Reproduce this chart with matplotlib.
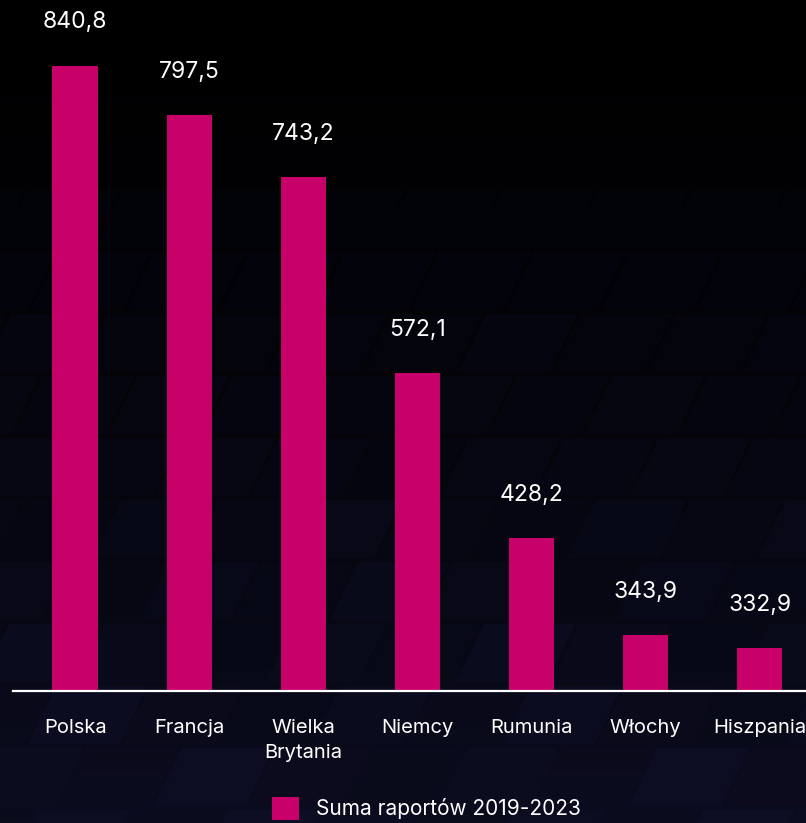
import numpy as np
import matplotlib.pyplot as plt
from matplotlib.patches import Polygon

# data
countries = ['Polska', 'Francja', 'Wielka\nBrytania', 'Niemcy', 'Rumunia', 'Włochy', 'Hiszpania']
values = [840.8, 797.5, 743.2, 572.1, 428.2, 343.9, 332.9]
series_name = 'Suma raportów 2019-2023'

bar_color = '#C8006A'
plt.rcParams['font.family'] = ['Inter', 'DejaVu Sans']

fig = plt.figure(figsize=(8.06, 8.23), dpi=100)
fig.patch.set_facecolor('#02020a')

# background: dark gradient with skewed tiles (decoration only)
bg = fig.add_axes([0, 0, 1, 1], zorder=0)
bg.axis('off')
grad = np.linspace(0, 1, 256).reshape(-1, 1)
bg.imshow(grad, extent=[0, 806, 823, 0], aspect='auto',
          cmap=plt.matplotlib.colors.LinearSegmentedColormap.from_list('bgc', ['#000000', '#040409', '#0a0c1f']))
tile_w, tile_h, skew = 95, 62, 28
for r in range(14):
    y0 = 190 + r * tile_h
    for c in range(-1, 10):
        x0 = c * tile_w + (r % 2) * 40 - r * skew * 0.3
        shade = ((r * 7 + c * 3) % 5) / 4.0
        depth = min(1.0, max(0.0, (y0 - 190) / 600))
        base = 0.015 + 0.035 * depth + 0.02 * shade * depth
        col = (base * 0.8, base * 0.85, base * 1.9 + 0.01)
        pts = [(x0 + skew, y0), (x0 + tile_w - 4 + skew, y0), (x0 + tile_w - 4, y0 + tile_h - 4), (x0, y0 + tile_h - 4)]
        bg.add_patch(Polygon(pts, closed=True, facecolor=col, edgecolor='none', alpha=0.9))
bg.set_xlim(0, 806)
bg.set_ylim(823, 0)

# chart
ax = fig.add_axes([13 / 806, 132 / 823, 1 - 13 / 806, 691 / 823], zorder=1)
ax.patch.set_alpha(0)
x = np.arange(len(countries))
bars = ax.bar(x, values, width=0.40, color=bar_color, label=series_name, zorder=2)
ax.set_xlim(-0.546, 6.407)
ax.set_ylim(295, 898)

for xi, v in zip(x, values):
    ax.annotate(f'{v:.1f}'.replace('.', ','), (xi, v), xytext=(0, 31), textcoords='offset points',
                ha='center', va='center', color='white', fontsize=16.5)

ax.set_xticks(x)
ax.set_xticklabels(countries, color='white', fontsize=14.5, linespacing=1.55)
ax.tick_params(axis='x', length=0, pad=20)
ax.set_yticks([])
for s in ['top', 'right', 'left']:
    ax.spines[s].set_visible(False)
ax.spines['bottom'].set_color('white')
ax.spines['bottom'].set_linewidth(1.6)

leg = ax.legend(handles=[bars], loc='center', bbox_to_anchor=(0.521, -0.170), frameon=False,
                handlelength=1.3, handleheight=1.3, handletextpad=0.8, fontsize=15)
for t in leg.get_texts():
    t.set_color('white')

fig.savefig('out.png', dpi=100, facecolor=fig.get_facecolor())
